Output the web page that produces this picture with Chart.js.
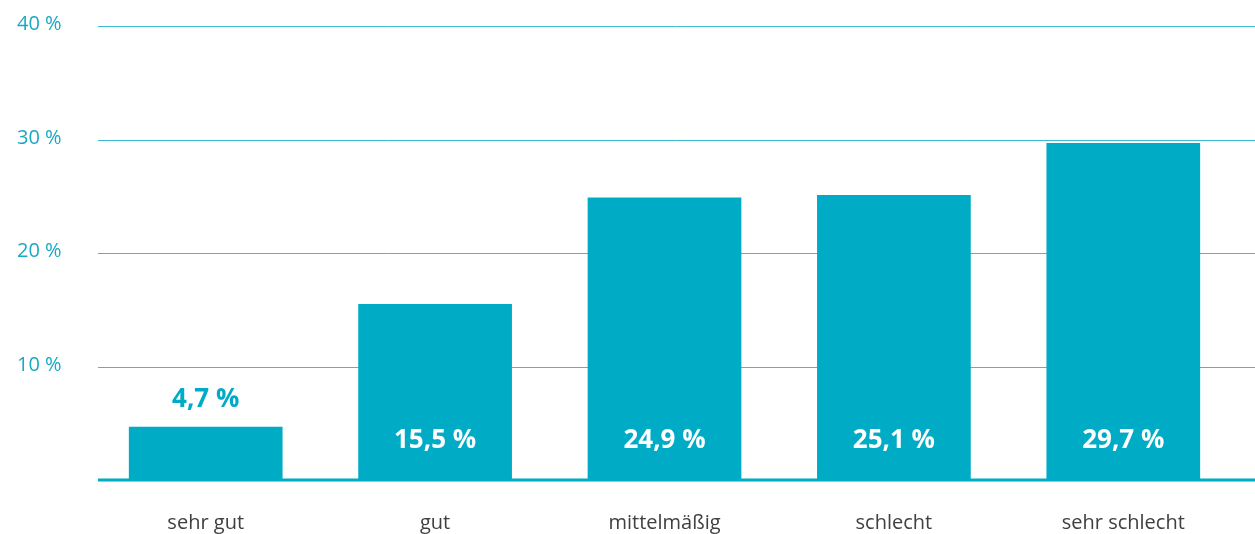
<!DOCTYPE html>
<html><head><meta charset="utf-8">
<script src="https://cdn.jsdelivr.net/npm/chart.js@4/dist/chart.umd.min.js"></script>
<style>html,body{margin:0;padding:0;background:#fff}#wrap{width:1255px;height:534px}</style>
</head><body><div id="wrap"><canvas id="c"></canvas></div>
<script>
const categories = ["sehr gut", "gut", "mittelmäßig", "schlecht", "sehr schlecht"];
const values = [4.7, 15.5, 24.9, 25.1, 29.7];
const valueLabels = ["4,7 %", "15,5 %", "24,9 %", "25,1 %", "29,7 %"];
const yTicks = [10, 20, 30, 40];
const yTickLabels = ["10 %", "20 %", "30 %", "40 %"];

const CYAN = "#00abc6";
const GRID = "#3dbdd1";
const FONT = "'Open Sans', 'Noto Sans', sans-serif";

const overlay = {
  id: "overlay",
  beforeDatasetsDraw(chart) {
    const ctx = chart.ctx, y = chart.scales.y, W = chart.width;
    ctx.save();
    ctx.strokeStyle = GRID; ctx.lineWidth = 1;
    yTicks.forEach((t, i) => {
      const py = Math.round(y.getPixelForValue(t)) + 0.5;
      ctx.beginPath(); ctx.moveTo(98, py); ctx.lineTo(W, py); ctx.stroke();
      ctx.fillStyle = "#19a9c4";
      ctx.font = "400 20px " + FONT;
      ctx.textAlign = "left"; ctx.textBaseline = "middle";
      ctx.fillText(yTickLabels[i], 17, py - 2);
    });
    ctx.restore();
  },
  afterDatasetsDraw(chart) {
    const ctx = chart.ctx, y = chart.scales.y, W = chart.width;
    const meta = chart.getDatasetMeta(0);
    ctx.save();
    const base = y.getPixelForValue(0);
    ctx.strokeStyle = CYAN; ctx.lineWidth = 3;
    ctx.beginPath(); ctx.moveTo(98, base); ctx.lineTo(W, base); ctx.stroke();
    ctx.font = "bold 26px " + FONT;
    ctx.textAlign = "center"; ctx.textBaseline = "middle";
    meta.data.forEach((bar, i) => {
      let ly = base - 39, col = "#ffffff";
      if (bar.y > ly - 20) { ly = bar.y - 27; col = CYAN; }
      ctx.fillStyle = col;
      ctx.fillText(valueLabels[i], bar.x, ly);
    });
    ctx.restore();
  }
};

new Chart(document.getElementById("c"), {
  type: "bar",
  data: { labels: categories, datasets: [{ data: values, backgroundColor: CYAN, borderWidth: 0, barPercentage: 0.67, categoryPercentage: 1 }] },
  options: {
    responsive: true, maintainAspectRatio: false, animation: false,
    layout: { padding: { left: 91, right: 17, top: 26, bottom: 0 } },
    plugins: { legend: { display: false }, tooltip: { enabled: false } },
    scales: {
      x: {
        grid: { display: false }, border: { display: false },
        ticks: { color: "#404040", font: { family: FONT, size: 20 }, padding: 23, maxRotation: 0 },
        afterFit(s) { s.height = 54; }
      },
      y: { display: false, min: 0, max: 40 }
    }
  },
  plugins: [overlay]
});
</script></body></html>
